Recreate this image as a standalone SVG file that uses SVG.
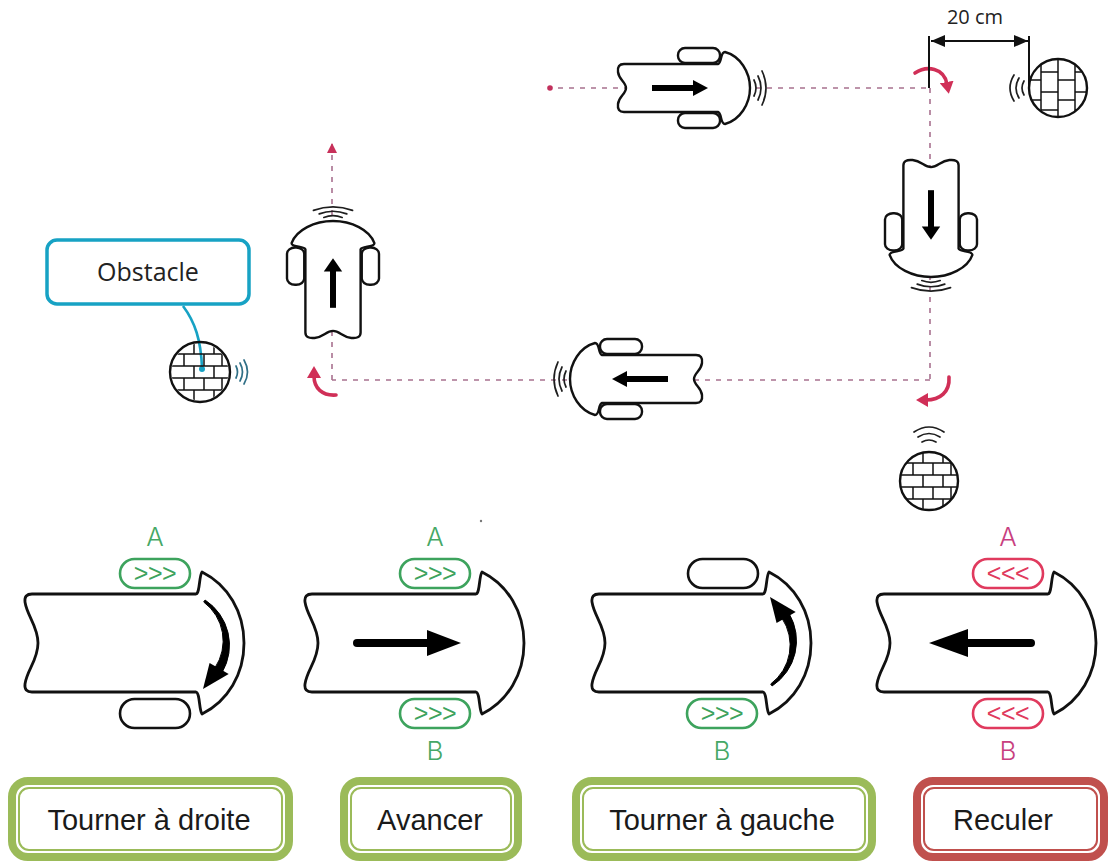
<svg xmlns="http://www.w3.org/2000/svg" width="1111" height="863" viewBox="0 0 1111 863">
<defs>
<style>
.route{fill:none;stroke:#a8718f;stroke-width:1.6;stroke-dasharray:5 6}
.turn{fill:none;stroke:#d02f57;stroke-width:3.6;stroke-linecap:round;marker-end:url(#turnHead)}
.sb{fill:#fff;stroke:#111;stroke-width:2.4;stroke-linejoin:round;vector-effect:non-scaling-stroke}
.wave{fill:none;stroke:#1e1e1e;stroke-width:1.7;stroke-linecap:round;vector-effect:non-scaling-stroke}
.shaft{fill:none;stroke:#000;stroke-width:6;vector-effect:non-scaling-stroke}
.big{fill:#fff;stroke:#111;stroke-width:2.8;stroke-linejoin:round}
.bshaft{fill:none;stroke:#000;stroke-width:8;stroke-linecap:round}
.wall{fill:none;stroke:#111;stroke-width:2.4}
.brick{fill:none;stroke:#111;stroke-width:1.5}
.wk{fill:#fff;stroke:#111;stroke-width:2.6}
.wg{fill:#fff;stroke:#3da35d;stroke-width:2.6}
.wr{fill:#fff;stroke:#e03a5e;stroke-width:2.6}
.lbl{font-family:Inter,"DejaVu Sans",sans-serif;font-weight:300;font-size:26px;text-anchor:middle}
.chev{font-family:"Liberation Sans",Arial,sans-serif;font-size:25px;letter-spacing:-0.5px;text-anchor:middle}
.tg{fill:#45a866}
.tr{fill:#c83f80}
.cg{fill:#3da35d}
.cr{fill:#e03a5e}
.bo{fill:#fff;stroke-width:8}
.bi{fill:none;stroke-width:2}
.okb{stroke:#9bbb59}
.nob{stroke:#c0504d}
.bt{font-family:"Liberation Sans",Arial,sans-serif;font-size:29px;fill:#1a1a1a;text-anchor:middle}
.note{font-family:"Open Sans","Liberation Sans",sans-serif;fill:#222;text-anchor:middle}
</style>

<marker id="turnHead" viewBox="0 0 12 14" refX="2" refY="7" markerWidth="12" markerHeight="14" markerUnits="userSpaceOnUse" orient="auto">
  <path d="M0,0 L12,7 L0,14 Z" fill="#d02f57"/>
</marker>
<marker id="routeHead" viewBox="0 0 10 10" refX="10" refY="5" markerWidth="10" markerHeight="10" markerUnits="userSpaceOnUse" orient="auto">
  <path d="M0,0 L10,5 L0,10 Z" fill="#c8305a"/>
</marker>
<marker id="dimHead" viewBox="0 0 14 12" refX="14" refY="6" markerWidth="14" markerHeight="12" markerUnits="userSpaceOnUse" orient="auto-start-reverse">
  <path d="M0,0 L14,6 L0,12 Z" fill="#111"/>
</marker>

<clipPath id="wallClip"><circle r="28.5"/></clipPath>

<!-- small robot seen from above, facing +x -->
<g id="bot">
  <path class="sb" d="M-56,-24 H38 C42,-25 40,-36 45,-36 C60,-32 70,-16 70,0 C70,16 60,32 45,36 C40,36 42,25 38,24 H-56 Q-63,24 -62,16 C-61,8 -54,6 -54,0 C-54,-6 -61,-8 -62,-16 Q-63,-24 -56,-24 Z"/>
  <rect class="sb" x="-2" y="-40" width="42" height="15" rx="7"/>
  <rect class="sb" x="-2" y="25" width="42" height="15" rx="7"/>
  <line class="shaft" x1="-28" y1="0" x2="16" y2="0"/>
  <path d="M13,-8 L28,0 L13,8 Z" fill="#000"/>
  <path class="wave" d="M74,-8 Q78,0 74,8 M78,-12 Q84,0 78,12 M82,-17 Q90,0 82,17"/>
</g>

<!-- large robot outline, facing +x -->
<path id="bigBody" class="big" d="M32,594 H196 C200,593 199,576 202,572 C228,585 244,612 244,643 C244,674 228,701 202,714 C199,710 200,693 196,692 H32 Q24,692 25,684 C27,670 38,660 38,643 C38,626 27,616 25,602 Q24,594 32,594 Z"/>

<!-- tapered turning arrow inside the nose -->
<g id="curveArrow">
  <path d="M205.1,600 A54,54 0 0 1 222.1,672.4 L214.9,667.9 A48.5,48.5 0 0 0 203.7,602 Z" fill="#000" stroke="#000" stroke-width="1" stroke-linejoin="round"/>
  <path d="M209.6,663 L228.7,674 L203,689 Z" fill="#000"/>
</g>

<g id="bricksH">
  <path class="brick" d="M-30,-18H30 M-30,-6H30 M-30,6H30 M-30,18H30 M-6,-30V-18 M14,-30V-18 M-16,-18V-6 M4,-18V-6 M22,-18V-6 M-6,-6V6 M14,-6V6 M-16,6V18 M4,6V18 M22,6V18 M-6,18V30 M14,18V30"/>
</g>
<g id="bricksV">
  <path class="brick" d="M-17,-30V30 M0,-30V30 M17,-30V30 M-30,-8H-17 M-30,12H-17 M-17,-16H0 M-17,4H0 M-17,22H0 M0,-8H17 M0,12H17 M17,-16H30 M17,4H30 M17,22H30"/>
</g>
</defs>

<rect width="1111" height="863" fill="#fff"/>

<!-- route and turns -->
<g id="connectors">
  <circle cx="550" cy="88" r="2.8" fill="#c2305c"/>
  <path class="route" d="M558,88 H930"/>
  <path class="route" d="M930,88 V380"/>
  <path class="route" d="M930,380 H332"/>
  <path class="route" d="M332,380 V143" marker-end="url(#routeHead)"/>
  <path class="turn" d="M915,73 C927,65 944,68 947,84"/>
  <path class="turn" d="M949,377 C950,392 940,400 926,400"/>
  <path class="turn" d="M336,395 C322,396 314,388 314,376"/>
  <path d="M183,306 C195,322 201,340 202,368" fill="none" stroke="#17a2c4" stroke-width="2.6"/>
  <circle cx="202" cy="369" r="3" fill="#17a2c4"/>
</g>

<!-- robots on the route -->
<g id="robot-top"><use href="#bot" transform="translate(680,88)"/></g>
<g id="robot-right"><use href="#bot" transform="translate(931,215) scale(1.15,0.886) rotate(90)"/></g>
<g id="robot-bottom"><use href="#bot" transform="translate(640,379) rotate(180)"/></g>
<g id="robot-left"><use href="#bot" transform="translate(333,283) scale(1.15,0.886) rotate(-90)"/></g>

<!-- walls -->
<g id="wall-top">
  <g transform="translate(1058,88)">
    <g clip-path="url(#wallClip)"><use href="#bricksV"/></g>
    <circle class="wall" r="29"/>
  </g>
  <path class="wave" d="M1024,81 Q1020,88 1024,95 M1019,78 Q1013,88 1019,98 M1014,75 Q1006,88 1014,101"/>
</g>
<g id="wall-left">
  <g transform="translate(200,372)">
    <g clip-path="url(#wallClip)"><use href="#bricksH"/></g>
    <circle class="wall" r="30"/>
  </g>
  <path class="wave" style="stroke:#2f6f86" d="M236,366 Q239,372 236,378 M240,363 Q245,372 240,381 M244,360 Q251,372 244,384"/>
</g>
<g id="wall-bottom">
  <g transform="translate(929,481)">
    <g clip-path="url(#wallClip)"><use href="#bricksH"/></g>
    <circle class="wall" r="29"/>
  </g>
  <path class="wave" d="M922,442 Q929,438 936,442 M918,437 Q929,430 940,437 M914,432 Q929,422 944,432"/>
</g>

<!-- distance to the wall -->
<g id="dimension">
  <path d="M929,36 V88 M1029,36 V88" fill="none" stroke="#111" stroke-width="2"/>
  <line x1="931" y1="41" x2="1028" y2="41" stroke="#111" stroke-width="2.2" marker-start="url(#dimHead)" marker-end="url(#dimHead)"/>
  <text class="note" x="975" y="24" font-size="20">20 cm</text>
</g>

<!-- obstacle callout -->
<g id="obstacle-label">
  <rect x="47" y="240" width="202" height="64" rx="10" fill="#fff" stroke="#17a2c4" stroke-width="3.5"/>
  <text class="note" x="148" y="281" font-size="25">Obstacle</text>
</g>

<!-- motor modes -->
<g id="mode-right">
  <use href="#bigBody"/>
  <rect class="wg" x="120" y="559" width="70" height="29" rx="14.5"/>
  <text class="chev cg" x="155" y="582">&gt;&gt;&gt;</text>
  <rect class="wk" x="120" y="699" width="70" height="29" rx="14.5"/>
  <use href="#curveArrow"/>
  <text class="lbl tg" x="155" y="546">A</text>
</g>

<g id="mode-forward">
  <use href="#bigBody" transform="translate(280,0)"/>
  <rect class="wg" x="400" y="559" width="70" height="29" rx="14.5"/>
  <text class="chev cg" x="435" y="582">&gt;&gt;&gt;</text>
  <rect class="wg" x="400" y="699" width="70" height="29" rx="14.5"/>
  <text class="chev cg" x="435" y="722">&gt;&gt;&gt;</text>
  <line class="bshaft" x1="357" y1="643" x2="430" y2="643"/>
  <path d="M427,630 L461,643 L427,656 Z" fill="#000"/>
  <text class="lbl tg" x="435" y="546">A</text>
  <text class="lbl tg" x="435" y="760">B</text>
  <circle cx="481" cy="521" r="1.2" fill="#777"/>
</g>

<g id="mode-left">
  <use href="#bigBody" transform="translate(567,0)"/>
  <rect class="wk" x="688" y="559" width="70" height="29" rx="14.5"/>
  <rect class="wg" x="687" y="699" width="70" height="29" rx="14.5"/>
  <text class="chev cg" x="722" y="722">&gt;&gt;&gt;</text>
  <use href="#curveArrow" transform="translate(567,1286) scale(1,-1)"/>
  <text class="lbl tg" x="722" y="760">B</text>
</g>

<g id="mode-back">
  <use href="#bigBody" transform="translate(852,0)"/>
  <rect class="wr" x="973" y="559" width="70" height="29" rx="14.5"/>
  <text class="chev cr" x="1008" y="582">&lt;&lt;&lt;</text>
  <rect class="wr" x="973" y="699" width="70" height="29" rx="14.5"/>
  <text class="chev cr" x="1008" y="722">&lt;&lt;&lt;</text>
  <line class="bshaft" x1="1031" y1="643" x2="966" y2="643"/>
  <path d="M968,629 L929,643 L968,657 Z" fill="#000"/>
  <text class="lbl tr" x="1008" y="546">A</text>
  <text class="lbl tr" x="1008" y="760">B</text>
</g>

<!-- captions -->
<g id="btn-droite">
  <rect class="bo okb" x="12" y="781" width="277" height="76" rx="16"/>
  <rect class="bi okb" x="19" y="788" width="263" height="62" rx="10"/>
  <text class="bt" x="149" y="830">Tourner à droite</text>
</g>
<g id="btn-avancer">
  <rect class="bo okb" x="344" y="781" width="174" height="76" rx="16"/>
  <rect class="bi okb" x="351" y="788" width="160" height="62" rx="10"/>
  <text class="bt" x="430" y="830">Avancer</text>
</g>
<g id="btn-gauche">
  <rect class="bo okb" x="576" y="781" width="296" height="76" rx="16"/>
  <rect class="bi okb" x="583" y="788" width="282" height="62" rx="10"/>
  <text class="bt" x="722" y="830">Tourner à gauche</text>
</g>
<g id="btn-reculer">
  <rect class="bo nob" x="917" y="781" width="187" height="76" rx="16"/>
  <rect class="bi nob" x="924" y="788" width="173" height="62" rx="10"/>
  <text class="bt" x="1003" y="830">Reculer</text>
</g>
</svg>
